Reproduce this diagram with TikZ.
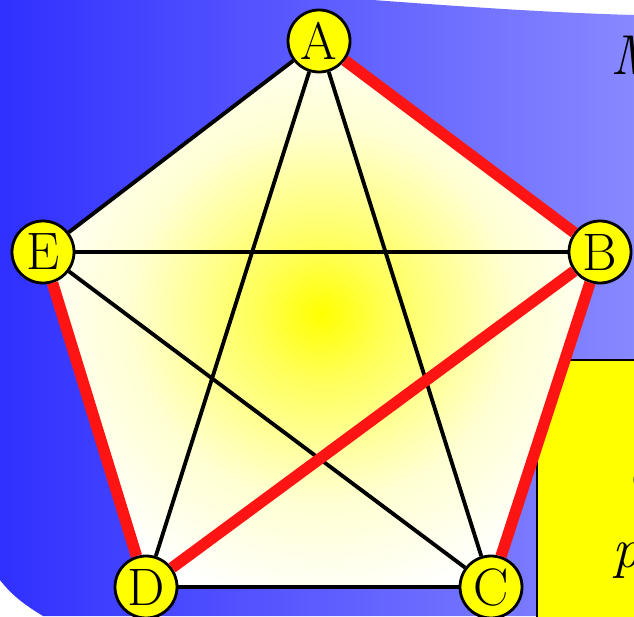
\documentclass[tikz,border=0pt]{standalone}
\usepackage{fontspec}
\definecolor{bgleft}{HTML}{3030FF}
\definecolor{bgmid}{HTML}{4C4CFF}
\definecolor{bgright}{HTML}{8888FF}
\definecolor{vertexfill}{HTML}{FFFF00}
\definecolor{tourred}{HTML}{FF1414}
\definecolor{notefill}{HTML}{FFFF00}
\pgfdeclareradialshading{glow}{\pgfpoint{0bp}{0bp}}{%
  color(0bp)=(yellow); color(6bp)=(yellow!65!white);
  color(17bp)=(yellow!18!white); color(27bp)=(white); color(50bp)=(white)}
\tikzset{
  vertex/.style={circle, draw=black, fill=vertexfill, line width=1.6pt,
    minimum size=1.24cm, inner sep=0pt, font=\fontsize{30}{32}\selectfont},
  edge/.style={draw=black, line width=2.2pt},
  tour/.style={draw=tourred, line width=6.5pt},
  slidetext/.style={font=\itshape\fontsize{32}{36}\selectfont, inner sep=0pt, anchor=base west},
}

\begin{document}
\begin{tikzpicture}[line join=round]
\path[use as bounding box, fill=white] (0,0) rectangle (12.68,12.32);

% slide background
\shade[left color=bgleft, middle color=bgmid, right color=bgright]
  (0,12.32) -- (7.46,12.32) .. controls (9.6,12.16) and (11.2,12.06) .. (12.68,12.02)
  -- (12.68,0) -- (0.86,0) .. controls (0.5,0.22) and (0.25,0.4) .. (0,0.72) -- cycle;
\node[slidetext] (title) at (12.2,10.82) {M};

% note box, mostly off the slide
\draw[fill=notefill, line width=0.9pt] (10.74,5.12) rectangle (13.2,-0.3);
\node[slidetext] (line1) at (12.57,3.52) {e};
\node[slidetext] (line2) at (12.57,2.56) {a};
\node[slidetext] (line3) at (12.24,0.98) {p};

\coordinate (pA) at (6.38,11.50);
\coordinate (pB) at (12.00,7.28);
\coordinate (pC) at (9.82,0.58);
\coordinate (pD) at (2.92,0.58);
\coordinate (pE) at (0.86,7.28);
\shade[shading=glow] (pA) -- (pB) -- (pC) -- (pD) -- (pE) -- cycle;

\foreach \v in {A,B,C,D,E}
  \node[vertex] (\v) at (p\v) {\v};

\foreach \a/\b in {A/E,A/D,A/C,E/B,E/C,D/C}
  \draw[edge] (\a) -- (\b);
\foreach \a/\b in {A/B,B/D,B/C,E/D}
  \draw[tour] (\a) -- (\b);
\end{tikzpicture}
\end{document}
